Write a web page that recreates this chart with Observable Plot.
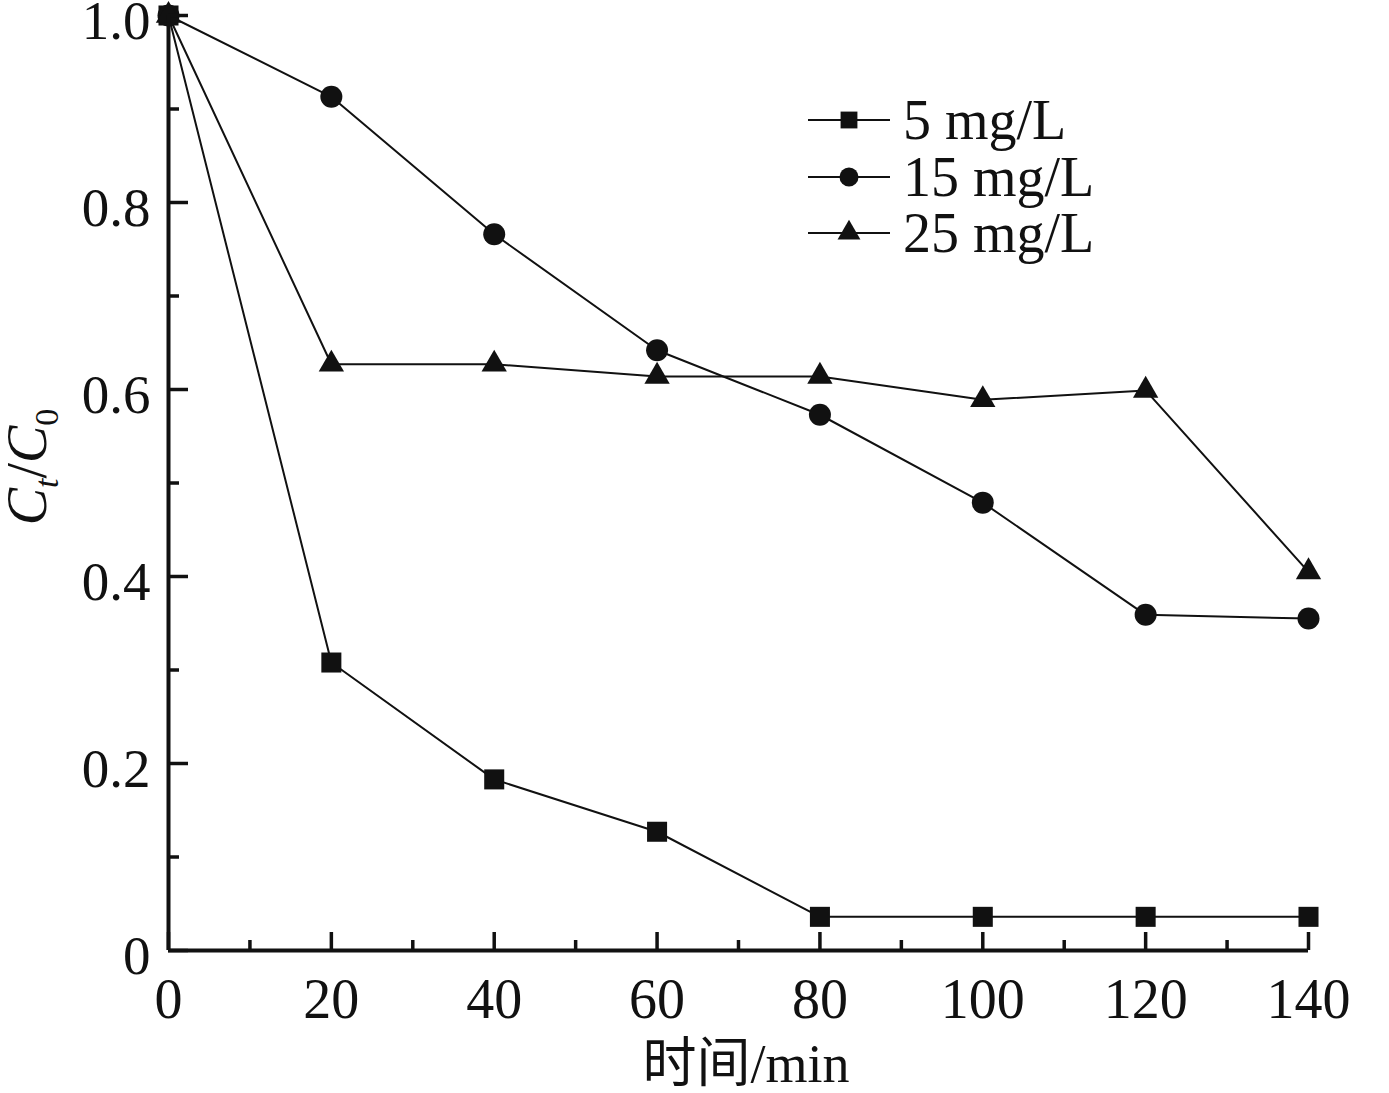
<!DOCTYPE html>
<html>
<head>
<meta charset="utf-8">
<script src="https://cdn.jsdelivr.net/npm/d3@7"></script>
<script src="https://cdn.jsdelivr.net/npm/@observablehq/plot@0.6"></script>
<style>
  html, body { margin: 0; padding: 0; background: #fff; }
  #chart { position: relative; width: 1389px; height: 1093px; }
  #chart svg { overflow: visible; }
</style>
</head>
<body>
<div id="chart"></div>
<script>
// ---- data ----
const times = [0, 20, 40, 60, 80, 100, 120, 140];
const seriesNames = ["5 mg/L", "15 mg/L", "25 mg/L"];
const c5  = [1.0, 0.308, 0.183, 0.127, 0.036, 0.036, 0.036, 0.036];
const c15 = [1.0, 0.913, 0.766, 0.642, 0.573, 0.479, 0.359, 0.355];
const c25 = [1.0, 0.627, 0.627, 0.614, 0.614, 0.589, 0.599, 0.405];
const seriesSymbols = ["square", "circle", "triangle"];
const xMajor = [0, 20, 40, 60, 80, 100, 120, 140];
const xMinor = [10, 30, 50, 70, 90, 110, 130];
const yMajor = [0, 0.2, 0.4, 0.6, 0.8, 1.0];
const yMinor = [0.1, 0.3, 0.5, 0.7, 0.9];
const xTitle = "时间/min";

const seriesValues = [c5, c15, c25];
const rows = seriesNames.flatMap((s, i) => times.map((t, j) => ({series: s, t, v: seriesValues[i][j]})));
const markerR = {"5 mg/L": 11.3, "15 mg/L": 11, "25 mg/L": 9.4};

const serif = "'Liberation Serif', 'Times New Roman', serif";
const blank = () => "";

const chart = Plot.plot({
  width: 1389,
  height: 1093,
  marginLeft: 168,
  marginRight: 81,
  marginTop: 15,
  marginBottom: 143,
  style: {fontFamily: serif, fontSize: "56px", color: "#111", background: "#fff", overflow: "visible"},
  x: {domain: [0, 140], label: null},
  y: {domain: [0, 1], label: null},
  marks: [
    Plot.line(rows, {x: "t", y: "v", z: "series", stroke: "#111", strokeWidth: 2}),
    ...seriesNames.map((s, i) =>
      Plot.dot(rows.filter(d => d.series === s), {x: "t", y: "v", symbol: () => seriesSymbols[i], fill: "#111", stroke: "none", r: markerR[s]})
    ),
    // x axis ticks (inward)
    Plot.axisX(xMajor, {tickSize: -18, tickFormat: blank, strokeWidth: 3.5, stroke: "#111"}),
    Plot.axisX(xMinor, {tickSize: -10, tickFormat: blank, strokeWidth: 3.5, stroke: "#111"}),
    Plot.axisX(xMajor, {tickSize: 0, tickPadding: 28, fontSize: 56, fill: "#111"}),
    // y axis ticks (inward)
    Plot.axisY(yMajor, {tickSize: -20, tickFormat: blank, strokeWidth: 3.5, stroke: "#111"}),
    Plot.axisY(yMinor, {tickSize: -11, tickFormat: blank, strokeWidth: 3.5, stroke: "#111"}),
    Plot.axisY(yMajor, {tickSize: 0, tickPadding: 18, fontSize: 55, fill: "#111", dy: 6,
      tickFormat: d => d === 0 ? "0" : d.toFixed(1)}),
    // spines
    Plot.ruleX([0], {stroke: "#111", strokeWidth: 4}),
    Plot.ruleY([0], {stroke: "#111", strokeWidth: 4})
  ]
});

document.getElementById("chart").appendChild(chart);

const svg = d3.select(chart);

// x-axis title
svg.append("text")
  .attr("x", 746).attr("y", 1082)
  .attr("text-anchor", "middle")
  .attr("font-family", "'Liberation Serif', 'Noto Sans CJK SC', serif")
  .attr("font-size", 54)
  .attr("fill", "#111")
  .text(xTitle);

// y-axis title: C_t / C_0
const yt = svg.append("text")
  .attr("transform", "translate(46,467) rotate(-90)")
  .attr("text-anchor", "middle")
  .attr("font-family", serif)
  .attr("font-size", 56)
  .attr("fill", "#111");
yt.append("tspan").attr("font-style", "italic").text("C");
yt.append("tspan").attr("font-style", "italic").attr("font-size", 34).attr("dy", 12).text("t");
yt.append("tspan").attr("dy", -12).text("/");
yt.append("tspan").attr("font-style", "italic").text("C");
yt.append("tspan").attr("font-size", 34).attr("dy", 12).text("0");

// legend
const legY = [120, 177, 233];
const legSymbolTypes = {square: d3.symbolSquare, circle: d3.symbolCircle, triangle: d3.symbolTriangle};
const legR = [9.5, 9.5, 8.5];
seriesNames.forEach((s, i) => {
  const g = svg.append("g").attr("transform", `translate(0,${legY[i]})`);
  g.append("line").attr("x1", 808).attr("x2", 890).attr("y1", 0).attr("y2", 0)
    .attr("stroke", "#111").attr("stroke-width", 2.2);
  g.append("path")
    .attr("transform", "translate(849,0)")
    .attr("d", d3.symbol(legSymbolTypes[seriesSymbols[i]], Math.PI * legR[i] * legR[i])())
    .attr("fill", "#111");
  g.append("text").attr("x", 903).attr("y", 0).attr("dy", "0.34em")
    .attr("text-anchor", "start")
    .attr("font-family", serif).attr("font-size", 56).attr("fill", "#111")
    .text(s);
});
</script>
</body>
</html>
